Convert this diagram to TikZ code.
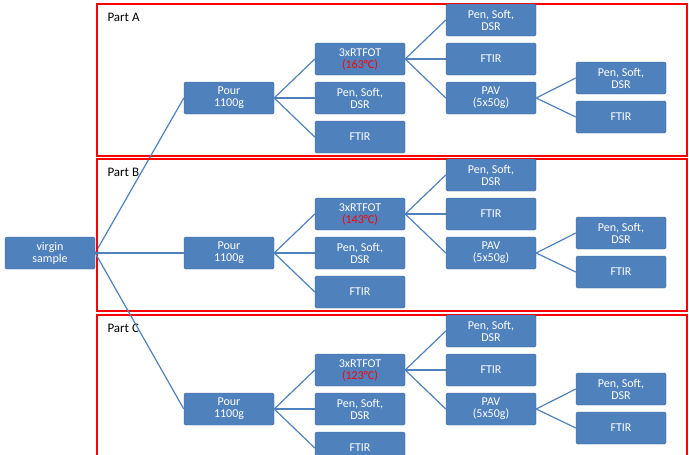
\documentclass[tikz,border=0pt]{standalone}
\usepackage{fontspec}
\setmainfont{Carlito}
\definecolor{boxblue}{RGB}{79,129,189}
\tikzset{
	box/.style={draw=boxblue!80!black, fill=boxblue, rounded corners=1.5pt, minimum width=90pt, minimum height=32pt, text=white, align=center, font=\fontsize{12}{12}\selectfont, inner sep=1pt},
	link/.style={boxblue, line width=1.2pt},
	frame/.style={red, line width=1.6pt}
}
\begin{document}
\begin{tikzpicture}[x=1pt, y=-1pt]
	\useasboundingbox (0,0) rectangle (689,455);
	% virgin sample
	\node [box] (virgin) at (50,253) {virgin\\sample};
	\foreach \part/\off/\temp in {A/0/163,B/155/143,C/311/123} {
		% frame
		\draw [frame] (97,4+\off) rectangle (687,156+\off);
		\node [anchor=west, font=\fontsize{13}{13}\selectfont] (label\part) at (104,17+\off) {Part \part};
		% boxes
		\node [box] (pour\part) at (229,98+\off) {Pour\\1100g};
		\node [box] (rtfot\part) at (360,59+\off) {3xRTFOT\\\textcolor{red}{(\temp°C)}};
		\node [box] (pen\part) at (360,98+\off) {Pen, Soft,\\DSR};
		\node [box] (ftir\part) at (360,137+\off) {FTIR};
		\node [box] (penr\part) at (491,20+\off) {Pen, Soft,\\DSR};
		\node [box] (ftirr\part) at (491,59+\off) {FTIR};
		\node [box] (pav\part) at (491,98+\off) {PAV\\(5x50g)};
		\node [box] (penp\part) at (621,78+\off) {Pen, Soft,\\DSR};
		\node [box] (ftirp\part) at (621,117+\off) {FTIR};
		% links
		\draw [link] (virgin.east) -- (pour\part.west);
		\foreach \n in {rtfot,pen,ftir} \draw [link] (pour\part.east) -- (\n\part.west);
		\foreach \n in {penr,ftirr,pav} \draw [link] (rtfot\part.east) -- (\n\part.west);
		\foreach \n in {penp,ftirp} \draw [link] (pav\part.east) -- (\n\part.west);
	}
\end{tikzpicture}
\end{document}
